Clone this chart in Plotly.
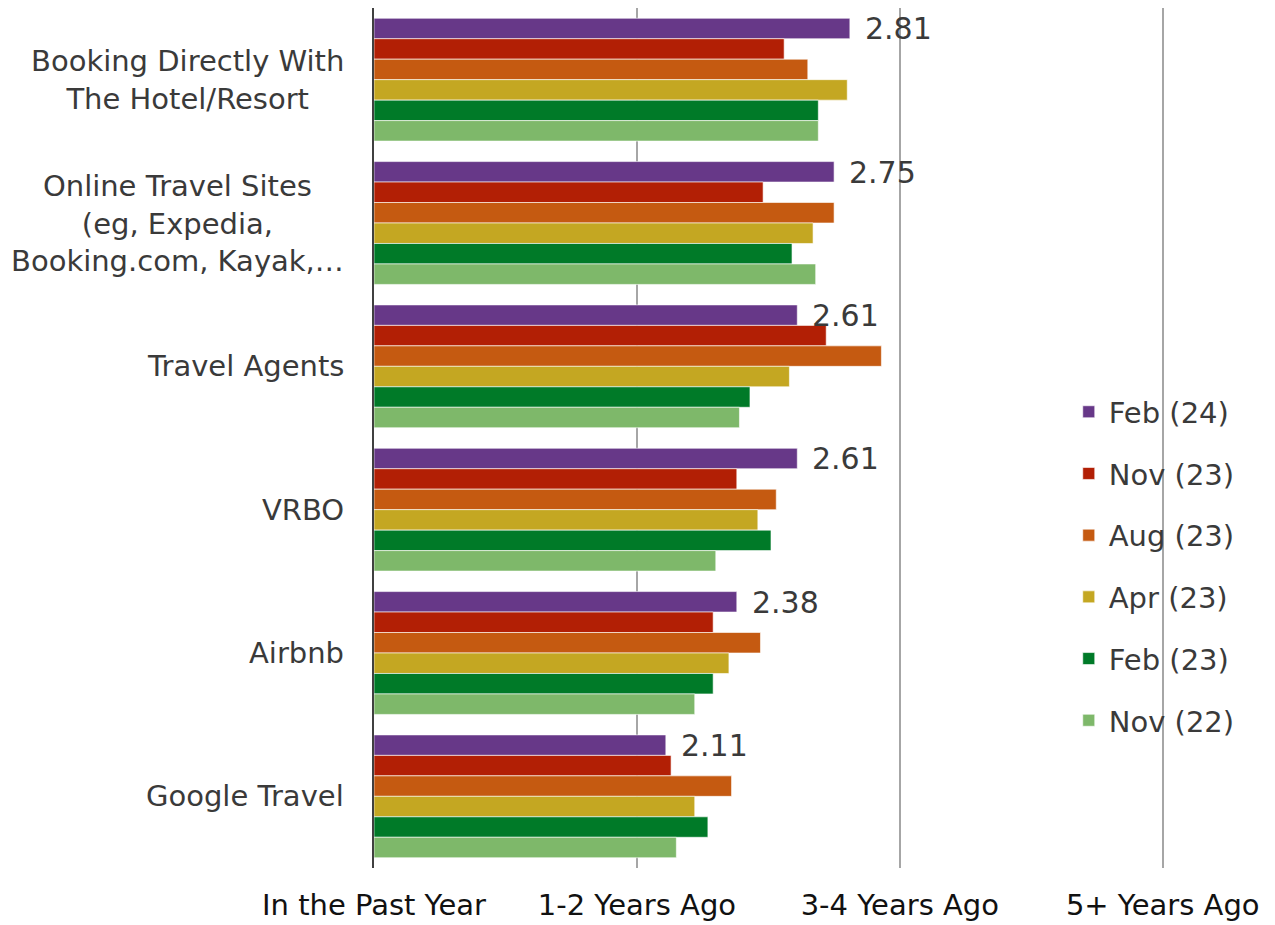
import plotly.graph_objects as go

categories = [
    "Booking Directly With<br>The Hotel/Resort",
    "Online Travel Sites<br>(eg, Expedia,<br>Booking.com, Kayak,…",
    "Travel Agents",
    "VRBO",
    "Airbnb",
    "Google Travel",
]
series_names = ["Feb (24)", "Nov (23)", "Aug (23)", "Apr (23)", "Feb (23)", "Nov (22)"]
feb24 = [2.81, 2.75, 2.61, 2.61, 2.38, 2.11]
nov23 = [2.56, 2.48, 2.72, 2.38, 2.29, 2.13]
aug23 = [2.65, 2.75, 2.93, 2.53, 2.47, 2.36]
apr23 = [2.80, 2.67, 2.58, 2.46, 2.35, 2.22]
feb23 = [2.69, 2.59, 2.43, 2.51, 2.29, 2.27]
nov22 = [2.69, 2.68, 2.39, 2.30, 2.22, 2.15]
series_values = [feb24, nov23, aug23, apr23, feb23, nov22]
colors = ["#673888", "#B21F05", "#C55A11", "#C4A722", "#007A28", "#7EB86A"]

tick_vals = [1, 2, 3, 4]
tick_text = ["In the Past Year", "1-2 Years Ago", "3-4 Years Ago", "5+ Years Ago"]

FONT = "DejaVu Sans"
TXT = "#3a3a3a"

fig = go.Figure()
for name, vals, col in zip(series_names, series_values, colors):
    fig.add_trace(go.Bar(
        y=categories, x=[v - 1 for v in vals], base=1, orientation="h",
        name=name, marker=dict(color=col, line=dict(color="rgba(255,255,255,0.6)", width=1)),
        legendgroup=name, hoverinfo="skip",
    ))

annotations = []
for k, (cat, v) in enumerate(zip(categories, feb24)):
    annotations.append(dict(
        x=v, y=k - 0.355, xref="x", yref="y", text=f"{v:.2f}", showarrow=False,
        xanchor="left", yanchor="middle", xshift=13,
        font=dict(family=FONT, size=30, color=TXT),
    ))
    annotations.append(dict(
        x=0, y=k, xref="paper", yref="y", text=cat, showarrow=False,
        xanchor="right", yanchor="middle", align="center", xshift=-28,
        font=dict(family=FONT, size=29, color=TXT),
    ))

fig.update_layout(
    width=1267, height=917,
    margin=dict(l=366, r=107, t=0, b=57, autoexpand=False),
    paper_bgcolor="white", plot_bgcolor="white",
    barmode="group", bargap=0.143, bargroupgap=0,
    font=dict(family=FONT, size=29, color=TXT),
    annotations=annotations,
    legend=dict(
        x=0.875, y=0.56, xanchor="left", yanchor="top",
        bgcolor="rgba(0,0,0,0)", font=dict(family=FONT, size=29, color=TXT),
        traceorder="grouped", tracegroupgap=21, itemwidth=30,
    ),
    xaxis=dict(
        range=[1, 4.02], tickvals=tick_vals, ticktext=tick_text,
        showgrid=True, gridcolor="#A6A6A6", gridwidth=2, zeroline=False,
        showline=False, ticks="", ticklabelstandoff=17, automargin=False,
        tickfont=dict(family=FONT, size=29, color="#111111"),
    ),
    yaxis=dict(
        type="category", autorange="reversed", showticklabels=False,
        showline=True, linecolor="#404040", linewidth=2, showgrid=False,
        zeroline=False, ticks="", automargin=False,
    ),
)

fig.write_html("out.html")
